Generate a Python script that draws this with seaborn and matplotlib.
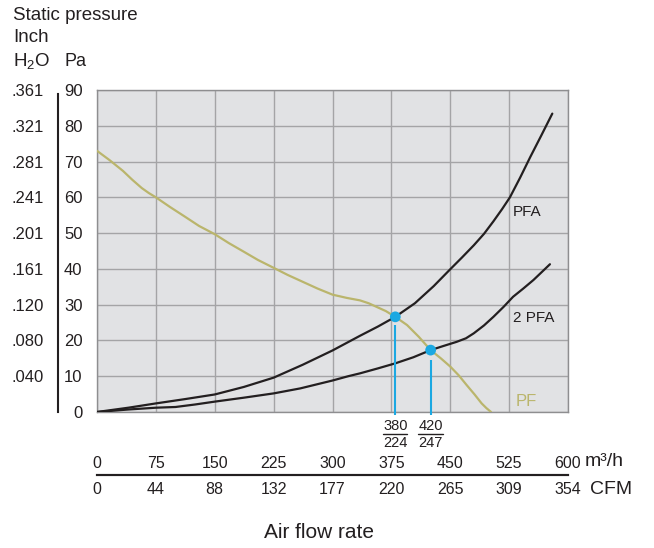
import numpy as np
import pandas as pd
import matplotlib
matplotlib.use("Agg")
import matplotlib.pyplot as plt
import matplotlib.transforms as mtransforms
import seaborn as sns

# ---------------- data ----------------
pf_flow = [0, 16, 33, 45, 57, 66, 75, 93, 112, 130, 150, 168, 187, 205, 225, 243, 262, 281, 300,
           318, 335, 346, 356, 368, 380, 395, 410, 425, 438, 450, 461, 471, 481, 490, 496, 502]
pf_pa = [73.0, 70.4, 67.4, 64.9, 62.6, 61.2, 60.0, 57.3, 54.6, 52.0, 49.7, 47.2, 44.8, 42.5, 40.3,
         38.3, 36.4, 34.5, 32.8, 31.9, 31.2, 30.4, 29.4, 28.2, 26.6, 24.3, 21.0, 17.3, 15.0, 12.7,
         10.2, 7.5, 4.9, 2.4, 1.1, 0.0]

pfa_flow = [0, 40, 75, 112, 150, 187, 225, 262, 300, 335, 358, 380, 405, 429, 450, 465, 480,
            493, 505, 516, 526, 539, 552, 566, 580]
pfa_pa = [0.0, 1.2, 2.4, 3.6, 4.9, 7.0, 9.6, 13.2, 17.2, 21.3, 23.9, 26.6, 30.4, 35.2, 39.9,
          43.2, 46.6, 49.8, 53.3, 56.7, 60.0, 65.5, 71.3, 77.3, 83.4]

pfa2_flow = [0, 40, 75, 100, 125, 150, 187, 225, 259, 300, 320, 335, 358, 380, 403, 425, 442,
             458, 470, 480, 493, 505, 518, 530, 543, 556, 567, 577]
pfa2_pa = [0.0, 0.7, 1.2, 1.4, 2.1, 2.9, 4.0, 5.2, 6.6, 8.8, 10.0, 10.8, 12.2, 13.6, 15.3, 17.3,
           18.5, 19.6, 20.6, 22.0, 24.2, 26.6, 29.4, 32.2, 34.5, 36.9, 39.2, 41.3]

op_flow = [380, 425]
op_pa = [26.6, 17.3]
op_top_labels = ["380", "420"]
op_bot_labels = ["224", "247"]

pa_ticks = [0, 10, 20, 30, 40, 50, 60, 70, 80, 90]
inch_labels = ["", ".040", ".080", ".120", ".161", ".201", ".241", ".281", ".321", ".361"]
flow_ticks = [0, 75, 150, 225, 300, 375, 450, 525, 600]
cfm_labels = ["0", "44", "88", "132", "177", "220", "265", "309", "354"]

curve_names = ["PF", "PFA", "2 PFA"]
# ---------------------------------------

TXT = "#231f20"
OLIVE = "#bab56c"
CYAN = "#1ba8e2"
GRID = "#a4a4a6"
BG = "#e1e2e4"

sns.set_style("white")
plt.rcParams["font.family"] = ["Liberation Sans", "DejaVu Sans"]
plt.rcParams["mathtext.fontset"] = "custom"
plt.rcParams["mathtext.rm"] = "Liberation Sans"
plt.rcParams["text.color"] = TXT
plt.rcParams["xtick.color"] = TXT
plt.rcParams["ytick.color"] = TXT

df = pd.concat([
    pd.DataFrame({"flow": pf_flow, "pa": pf_pa, "curve": curve_names[0]}),
    pd.DataFrame({"flow": pfa_flow, "pa": pfa_pa, "curve": curve_names[1]}),
    pd.DataFrame({"flow": pfa2_flow, "pa": pfa2_pa, "curve": curve_names[2]}),
], ignore_index=True)

W, H = 654, 548
fig = plt.figure(figsize=(W / 100, H / 100), dpi=100)
ax = fig.add_axes([97 / W, (H - 412) / H, 471 / W, 322 / H])
ax.set_facecolor(BG)

sns.lineplot(data=df, x="flow", y="pa", hue="curve",
             palette={"PF": OLIVE, "PFA": TXT, "2 PFA": TXT},
             estimator=None, sort=False, legend=False, lw=1.6, ax=ax, zorder=3)
for ln in ax.get_lines():
    ln.set_solid_joinstyle("round")
    ln.set_solid_capstyle("round")

ax.set_xlim(0, 600)
ax.set_ylim(0, 90)
ax.set_xlabel("")
ax.set_ylabel("")
ax.set_xticks(flow_ticks)
ax.set_yticks(pa_ticks)
ax.set_yticklabels([str(v) for v in pa_ticks])
ax.tick_params(axis="x", length=0, labelbottom=False)
ax.tick_params(axis="y", length=0, pad=10.5, labelsize=12)
ax.grid(True, color=GRID, lw=1)
ax.set_axisbelow(True)
for s in ax.spines.values():
    s.set_color("#8e8e90")
    s.set_linewidth(1.0)

# operating points
ax.vlines(op_flow, ymin=-0.85, ymax=np.array(op_pa) - np.array([2.2, 2.8]),
          color=CYAN, lw=1.5, clip_on=False, zorder=4)
sns.scatterplot(x=op_flow, y=op_pa, color=CYAN, s=60, edgecolor="none", ax=ax, zorder=5, legend=False)

for f, t, b in zip(op_flow, op_top_labels, op_bot_labels):
    ax.annotate(t, xy=(f, 0), xytext=(0, -14), textcoords="offset pixels",
                ha="center", va="center", fontsize=10.5, annotation_clip=False)
    ax.annotate(b, xy=(f, 0), xytext=(0, -31), textcoords="offset pixels",
                ha="center", va="center", fontsize=10.5, annotation_clip=False)
    tr = mtransforms.offset_copy(ax.transData, fig=fig, x=0, y=-22, units="dots")
    ax.plot([f - 15.5, f + 15.5], [0, 0], color=TXT, lw=1.0, transform=tr, clip_on=False)

# curve labels
ax.text(530, 55.9, "PFA", fontsize=11, va="center", ha="left", color=TXT)
ax.text(530, 26.3, "2 PFA", fontsize=11, va="center", ha="left", color=TXT)
ax.text(533, 2.8, "PF", fontsize=12, va="center", ha="left", color=OLIVE)

# inch axis
sy = ax.secondary_yaxis((58 - 97) / 471)
sy.set_yticks(pa_ticks, labels=inch_labels)
sy.tick_params(axis="y", length=0, pad=10, labelsize=12)
sy.spines["left"].set_linewidth(1.5)
sy.spines["left"].set_color(TXT)
sy.spines["left"].set_bounds(0, 88.8)

# bottom dual x axis
loc = (412 - 475) / 322
sx_top = ax.secondary_xaxis(loc)
sx_top.set_alignment("top")
sx_top.set_xticks(flow_ticks, labels=[str(v) for v in flow_ticks])
sx_top.tick_params(axis="x", length=0, pad=3.0, labelsize=11.5)
sx_top.spines["top"].set_linewidth(1.5)
sx_top.spines["top"].set_color(TXT)

sx_bot = ax.secondary_xaxis(loc)
sx_bot.set_alignment("bottom")
sx_bot.set_xticks(flow_ticks, labels=cfm_labels)
sx_bot.tick_params(axis="x", length=0, pad=5.0, labelsize=11.5)
sx_bot.spines["bottom"].set_linewidth(1.5)
sx_bot.spines["bottom"].set_color(TXT)

# texts
def ftext(x, y, s, **kw):
    fig.text(x / W, 1 - y / H, s, **kw)

ftext(13, 15, "Static pressure", fontsize=13.5, va="center", ha="left")
ftext(13, 38, "Inch", fontsize=13.5, va="center", ha="left")
ftext(13, 62, "H$_\\mathregular{2}$O", fontsize=13.5, va="center", ha="left")
ftext(65, 62, "Pa", fontsize=13, va="center", ha="left")
ftext(585, 461, "m³/h", fontsize=14, va="center", ha="left")
ftext(590, 490, "CFM", fontsize=14, va="center", ha="left")
ftext(319, 532, "Air flow rate", fontsize=15, va="center", ha="center")

fig.savefig("out.png", dpi=100)
